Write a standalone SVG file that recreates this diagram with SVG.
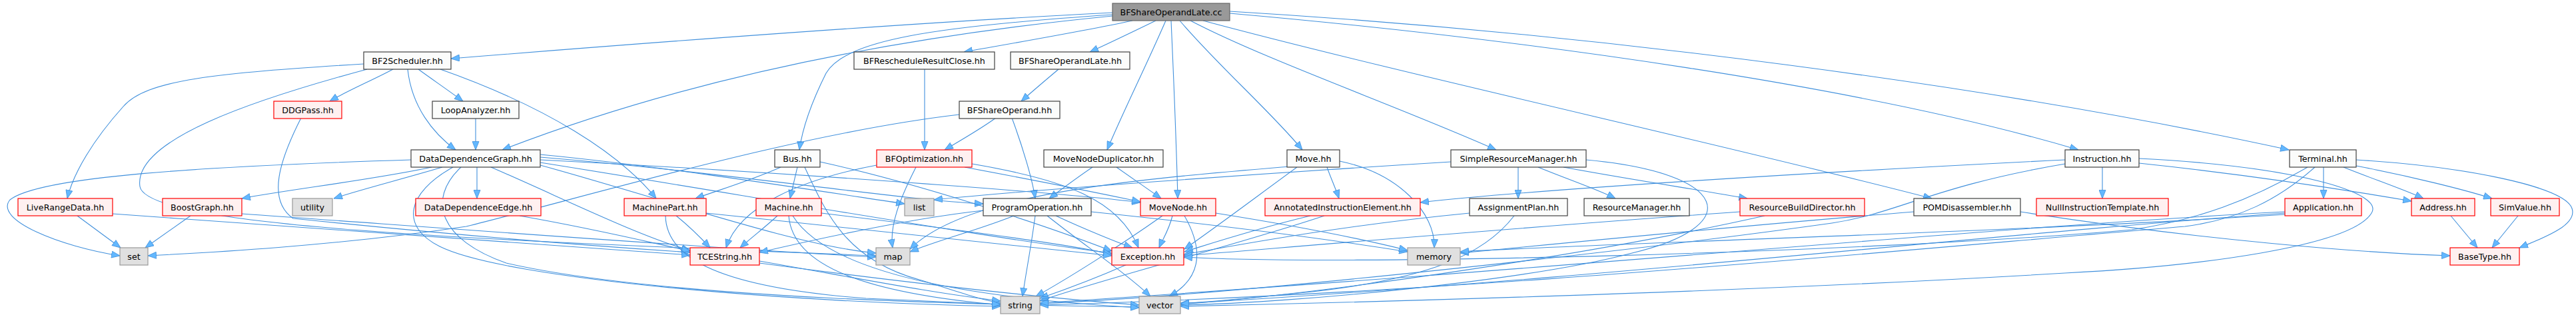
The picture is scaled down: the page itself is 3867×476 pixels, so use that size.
<svg xmlns="http://www.w3.org/2000/svg" width="3867" height="476" viewBox="0 0 3867 476">
<style>
text{font-family:"DejaVu Sans","Liberation Sans",sans-serif;font-size:12.7px;text-anchor:middle;fill:#000}
.w rect{fill:#fbfcfb;stroke:#404040;stroke-width:1.2}
.r rect{fill:#fff0f0;stroke:#ff0000;stroke-width:1.2}
.g rect{fill:#e0e0e0;stroke:#999999;stroke-width:1.2}
.root rect{fill:#999999;stroke:#666666;stroke-width:1.2}
#edges path{fill:none;stroke:#4190dc;stroke-width:1.1;marker-end:url(#ah)}
</style>
<defs>
<marker id="ah" markerUnits="userSpaceOnUse" markerWidth="14" markerHeight="11" refX="13" refY="5.5" orient="auto">
<path d="M0.5,0.5 L13,5.5 L0.5,10.5 z" fill="#63b8ff" stroke="#4190dc" stroke-width="0.8"/>
</marker>
</defs>
<rect width="3867" height="476" fill="#ffffff"/>
<g id="edges">
<path d="M1670,19 C1350,35 900,70 677,88"/>
<path d="M1700,31 C1620,48 1520,65 1447,78"/>
<path d="M1735,31 C1700,48 1665,65 1636,78"/>
<path d="M1670,24 C1300,60 1000,130 754,225"/>
<path d="M1670,22 C1400,40 1270,60 1240,110 C1220,150 1205,190 1200,225"/>
<path d="M1750,31 C1720,100 1685,170 1662,225"/>
<path d="M1758,31 C1762,120 1766,220 1768,298"/>
<path d="M1771,31 C1830,100 1910,170 1955,225"/>
<path d="M1787,31 C1900,90 2100,160 2246,225"/>
<path d="M1806,31 C2100,110 2600,220 2900,298"/>
<path d="M1846,20 C2300,60 2800,130 3120,225"/>
<path d="M1846,17 C2400,50 3000,130 3436,225"/>
<path d="M546,96 C320,110 220,120 185,160 C140,210 110,260 101,298"/>
<path d="M551,104 C380,150 200,210 210,280 C220,340 700,360 1315,384"/>
<path d="M590,104 C560,120 520,137 495,152"/>
<path d="M628,104 C650,120 675,137 695,152"/>
<path d="M612,104 C618,160 650,200 684,225"/>
<path d="M661,104 C820,160 930,230 985,298"/>
<path d="M452,177 C420,240 400,300 440,328 C700,355 900,370 1036,379"/>
<path d="M714,177 L714,225"/>
<path d="M617,240 C300,250 60,265 15,300 C-10,330 90,370 180,384"/>
<path d="M648,251 C560,270 430,285 363,298"/>
<path d="M664,251 C600,270 540,285 501,298"/>
<path d="M716,251 L716,298"/>
<path d="M737,251 C850,300 960,355 1036,376"/>
<path d="M680,251 C610,290 600,340 660,370 C760,420 1200,455 1502,460"/>
<path d="M692,251 C640,300 660,360 760,395 C1000,450 1500,458 1710,461"/>
<path d="M811,232 C1000,250 1250,290 1358,306"/>
<path d="M811,236 C1100,260 1350,300 1476,306"/>
<path d="M811,240 C1200,260 1600,290 1712,304"/>
<path d="M811,244 C1100,290 1500,360 1669,380"/>
<path d="M811,248 C1000,300 1200,370 1315,380"/>
<path d="M780,324 C900,345 980,365 1036,377"/>
<path d="M116,324 L181,372"/>
<path d="M169,321 C500,345 850,370 1036,383"/>
<path d="M286,324 L218,372"/>
<path d="M363,321 C700,345 1100,375 1315,386"/>
<path d="M1440,172 C1200,200 900,290 700,340 C500,370 300,380 222,384"/>
<path d="M1172,251 C1130,270 1080,285 1044,298"/>
<path d="M1197,251 L1186,298"/>
<path d="M1208,251 C1240,320 1270,390 1380,420 C1430,435 1470,450 1502,455"/>
<path d="M1231,243 C1400,280 1600,350 1669,377"/>
<path d="M1589,104 C1570,120 1550,137 1533,152"/>
<path d="M1388,104 L1388,225"/>
<path d="M1495,177 C1470,195 1440,212 1418,225"/>
<path d="M1519,177 C1535,220 1550,270 1554,298"/>
<path d="M1375,251 C1350,300 1335,340 1340,372"/>
<path d="M1448,251 C1550,270 1650,290 1712,303"/>
<path d="M1459,246 C1600,270 1680,300 1709,372"/>
<path d="M1316,248 C1200,270 1110,310 1090,372"/>
<path d="M1640,251 C1615,268 1595,283 1575,298"/>
<path d="M1676,251 C1700,268 1722,283 1743,298"/>
<path d="M1522,324 C1470,345 1410,360 1366,378"/>
<path d="M1554,324 C1548,370 1540,410 1535,445"/>
<path d="M1572,324 C1630,370 1690,410 1727,445"/>
<path d="M1585,324 C1630,345 1680,365 1700,372"/>
<path d="M1638,318 C1850,340 2000,360 2113,378"/>
<path d="M1476,316 C1350,330 1200,365 1140,379"/>
<path d="M1745,324 C1680,370 1600,420 1555,445"/>
<path d="M1760,324 C1755,345 1745,360 1740,372"/>
<path d="M1778,324 C1810,380 1800,420 1755,445"/>
<path d="M1825,320 C1950,340 2050,360 2113,376"/>
<path d="M1992,251 C1998,268 2005,283 2010,298"/>
<path d="M2011,242 C2100,260 2155,320 2153,372"/>
<path d="M1947,251 C1880,300 1820,345 1778,374"/>
<path d="M1935,250 C1700,270 1450,290 1366,374"/>
<path d="M1967,324 C1880,345 1820,365 1778,378"/>
<path d="M1988,324 C1850,370 1650,420 1561,452"/>
<path d="M2279,251 L2279,298"/>
<path d="M2309,251 C2350,268 2400,285 2425,298"/>
<path d="M2178,243 C1900,260 1550,285 1402,300"/>
<path d="M2347,251 C2450,270 2550,285 2623,298"/>
<path d="M2381,240 C2600,260 2620,340 2450,380 C2300,420 1950,455 1772,458"/>
<path d="M2206,320 C2000,340 1850,370 1777,382"/>
<path d="M2273,324 C2230,380 2150,420 1950,440 C1850,450 1800,455 1772,455"/>
<path d="M2612,318 C2300,340 1950,370 1777,384"/>
<path d="M2649,324 C2400,380 2000,440 1772,457"/>
<path d="M2873,318 C2600,340 2350,365 2192,380"/>
<path d="M3033,318 C3300,360 3550,380 3678,384"/>
<path d="M3156,251 L3156,298"/>
<path d="M3100,240 C2700,260 2300,285 2132,304"/>
<path d="M3211,245 C3400,265 3550,290 3620,302"/>
<path d="M3100,246 C2900,280 2850,320 2750,335 C2500,370 1900,440 1561,456"/>
<path d="M3211,238 C3450,250 3580,290 3560,320 C3530,370 3300,400 3100,410 C2600,440 2000,455 1772,460"/>
<path d="M3488,251 L3488,298"/>
<path d="M3518,251 C3560,268 3610,285 3638,298"/>
<path d="M3537,249 C3620,265 3700,285 3741,298"/>
<path d="M3537,240 C3700,250 3850,280 3861,313 C3870,340 3810,360 3782,372"/>
<path d="M3464,251 C3380,300 3300,330 3200,345 C2800,380 2000,400 1777,386"/>
<path d="M3475,251 C3420,300 3360,330 3280,340 C2800,380 2200,440 1561,458"/>
<path d="M3430,318 C3000,340 2400,400 1561,455"/>
<path d="M3430,320 C3000,350 2400,420 1772,456"/>
<path d="M3430,322 C3000,350 2400,365 2192,378"/>
<path d="M3679,324 L3719,372"/>
<path d="M3780,324 L3741,372"/>
<path d="M1692,397 C1640,420 1590,438 1561,448"/>
<path d="M1140,392 C1300,420 1400,440 1502,452"/>
<path d="M1140,395 C1400,430 1600,450 1710,458"/>
<path d="M1167,324 C1150,340 1130,355 1111,372"/>
<path d="M1184,324 C1190,400 1300,440 1502,458"/>
<path d="M1190,324 C1250,420 1500,450 1710,462"/>
<path d="M1233,320 C1400,340 1600,365 1669,382"/>
<path d="M1015,324 C1035,340 1050,355 1066,372"/>
<path d="M999,324 C1000,380 1060,430 1300,448 C1400,452 1460,455 1502,457"/>
<path d="M1060,320 C1300,345 1550,370 1669,384"/>
</g>
<g id="n_root" class="root"><rect x="1670" y="5" width="176" height="26"/><text x="1758" y="22.5">BFShareOperandLate.cc</text></g>
<g id="n_bf2" class="w"><rect x="546" y="78" width="131" height="26"/><text x="611.5" y="95.5">BF2Scheduler.hh</text></g>
<g id="n_bfrrc" class="w"><rect x="1282" y="78" width="211" height="26"/><text x="1387.5" y="95.5">BFRescheduleResultClose.hh</text></g>
<g id="n_bfsolh" class="w"><rect x="1517" y="78" width="179" height="26"/><text x="1606.5" y="95.5">BFShareOperandLate.hh</text></g>
<g id="n_ddgpass" class="r"><rect x="411" y="152" width="102" height="26"/><text x="462" y="169.5">DDGPass.hh</text></g>
<g id="n_loop" class="w"><rect x="649" y="152" width="130" height="26"/><text x="714" y="169.5">LoopAnalyzer.hh</text></g>
<g id="n_bfso" class="w"><rect x="1440" y="152" width="151" height="26"/><text x="1515.5" y="169.5">BFShareOperand.hh</text></g>
<g id="n_ddg" class="w"><rect x="617" y="225" width="194" height="26"/><text x="714" y="242.5">DataDependenceGraph.hh</text></g>
<g id="n_bus" class="w"><rect x="1163" y="225" width="68" height="26"/><text x="1197" y="242.5">Bus.hh</text></g>
<g id="n_bfopt" class="r"><rect x="1316" y="225" width="143" height="26"/><text x="1387.5" y="242.5">BFOptimization.hh</text></g>
<g id="n_mnd" class="w"><rect x="1567" y="225" width="179" height="26"/><text x="1656.5" y="242.5">MoveNodeDuplicator.hh</text></g>
<g id="n_move" class="w"><rect x="1932" y="225" width="79" height="26"/><text x="1971.5" y="242.5">Move.hh</text></g>
<g id="n_srm" class="w"><rect x="2178" y="225" width="203" height="26"/><text x="2279.5" y="242.5">SimpleResourceManager.hh</text></g>
<g id="n_instr" class="w"><rect x="3100" y="225" width="111" height="26"/><text x="3155.5" y="242.5">Instruction.hh</text></g>
<g id="n_term" class="w"><rect x="3437" y="225" width="100" height="26"/><text x="3487" y="242.5">Terminal.hh</text></g>
<g id="n_lrd" class="r"><rect x="27" y="298" width="142" height="26"/><text x="98" y="315.5">LiveRangeData.hh</text></g>
<g id="n_boost" class="r"><rect x="244" y="298" width="119" height="26"/><text x="303.5" y="315.5">BoostGraph.hh</text></g>
<g id="n_utility" class="g"><rect x="439" y="298" width="60" height="26"/><text x="469" y="315.5">utility</text></g>
<g id="n_dde" class="r"><rect x="624" y="298" width="188" height="26"/><text x="718" y="315.5">DataDependenceEdge.hh</text></g>
<g id="n_mpart" class="r"><rect x="937" y="298" width="123" height="26"/><text x="998.5" y="315.5">MachinePart.hh</text></g>
<g id="n_machine" class="r"><rect x="1135" y="298" width="98" height="26"/><text x="1184" y="315.5">Machine.hh</text></g>
<g id="n_list" class="g"><rect x="1358" y="298" width="44" height="26"/><text x="1380" y="315.5">list</text></g>
<g id="n_po" class="w"><rect x="1476" y="298" width="162" height="26"/><text x="1557" y="315.5">ProgramOperation.hh</text></g>
<g id="n_mn" class="r"><rect x="1712" y="298" width="113" height="26"/><text x="1768.5" y="315.5">MoveNode.hh</text></g>
<g id="n_aie" class="r"><rect x="1899" y="298" width="233" height="26"/><text x="2015.5" y="315.5">AnnotatedInstructionElement.hh</text></g>
<g id="n_ap" class="w"><rect x="2206" y="298" width="147" height="26"/><text x="2279.5" y="315.5">AssignmentPlan.hh</text></g>
<g id="n_rm" class="w"><rect x="2378" y="298" width="158" height="26"/><text x="2457" y="315.5">ResourceManager.hh</text></g>
<g id="n_rbd" class="r"><rect x="2612" y="298" width="187" height="26"/><text x="2705.5" y="315.5">ResourceBuildDirector.hh</text></g>
<g id="n_pomd" class="w"><rect x="2873" y="298" width="160" height="26"/><text x="2953" y="315.5">POMDisassembler.hh</text></g>
<g id="n_nit" class="r"><rect x="3057" y="298" width="198" height="26"/><text x="3156" y="315.5">NullInstructionTemplate.hh</text></g>
<g id="n_app" class="r"><rect x="3430" y="298" width="115" height="26"/><text x="3487.5" y="315.5">Application.hh</text></g>
<g id="n_addr" class="r"><rect x="3620" y="298" width="95" height="26"/><text x="3667.5" y="315.5">Address.hh</text></g>
<g id="n_simv" class="r"><rect x="3739" y="298" width="103" height="26"/><text x="3790.5" y="315.5">SimValue.hh</text></g>
<g id="n_set" class="g"><rect x="180" y="372" width="42" height="26"/><text x="201" y="389.5">set</text></g>
<g id="n_tces" class="r"><rect x="1036" y="372" width="104" height="26"/><text x="1088" y="389.5">TCEString.hh</text></g>
<g id="n_map" class="g"><rect x="1315" y="372" width="51" height="26"/><text x="1340.5" y="389.5">map</text></g>
<g id="n_exc" class="r"><rect x="1669" y="372" width="108" height="26"/><text x="1723" y="389.5">Exception.hh</text></g>
<g id="n_memory" class="g"><rect x="2113" y="372" width="79" height="26"/><text x="2152.5" y="389.5">memory</text></g>
<g id="n_basetype" class="r"><rect x="3678" y="372" width="104" height="26"/><text x="3730" y="389.5">BaseType.hh</text></g>
<g id="n_string" class="g"><rect x="1502" y="445" width="59" height="26"/><text x="1531.5" y="462.5">string</text></g>
<g id="n_vector" class="g"><rect x="1710" y="445" width="62" height="26"/><text x="1741" y="462.5">vector</text></g>
</svg>
